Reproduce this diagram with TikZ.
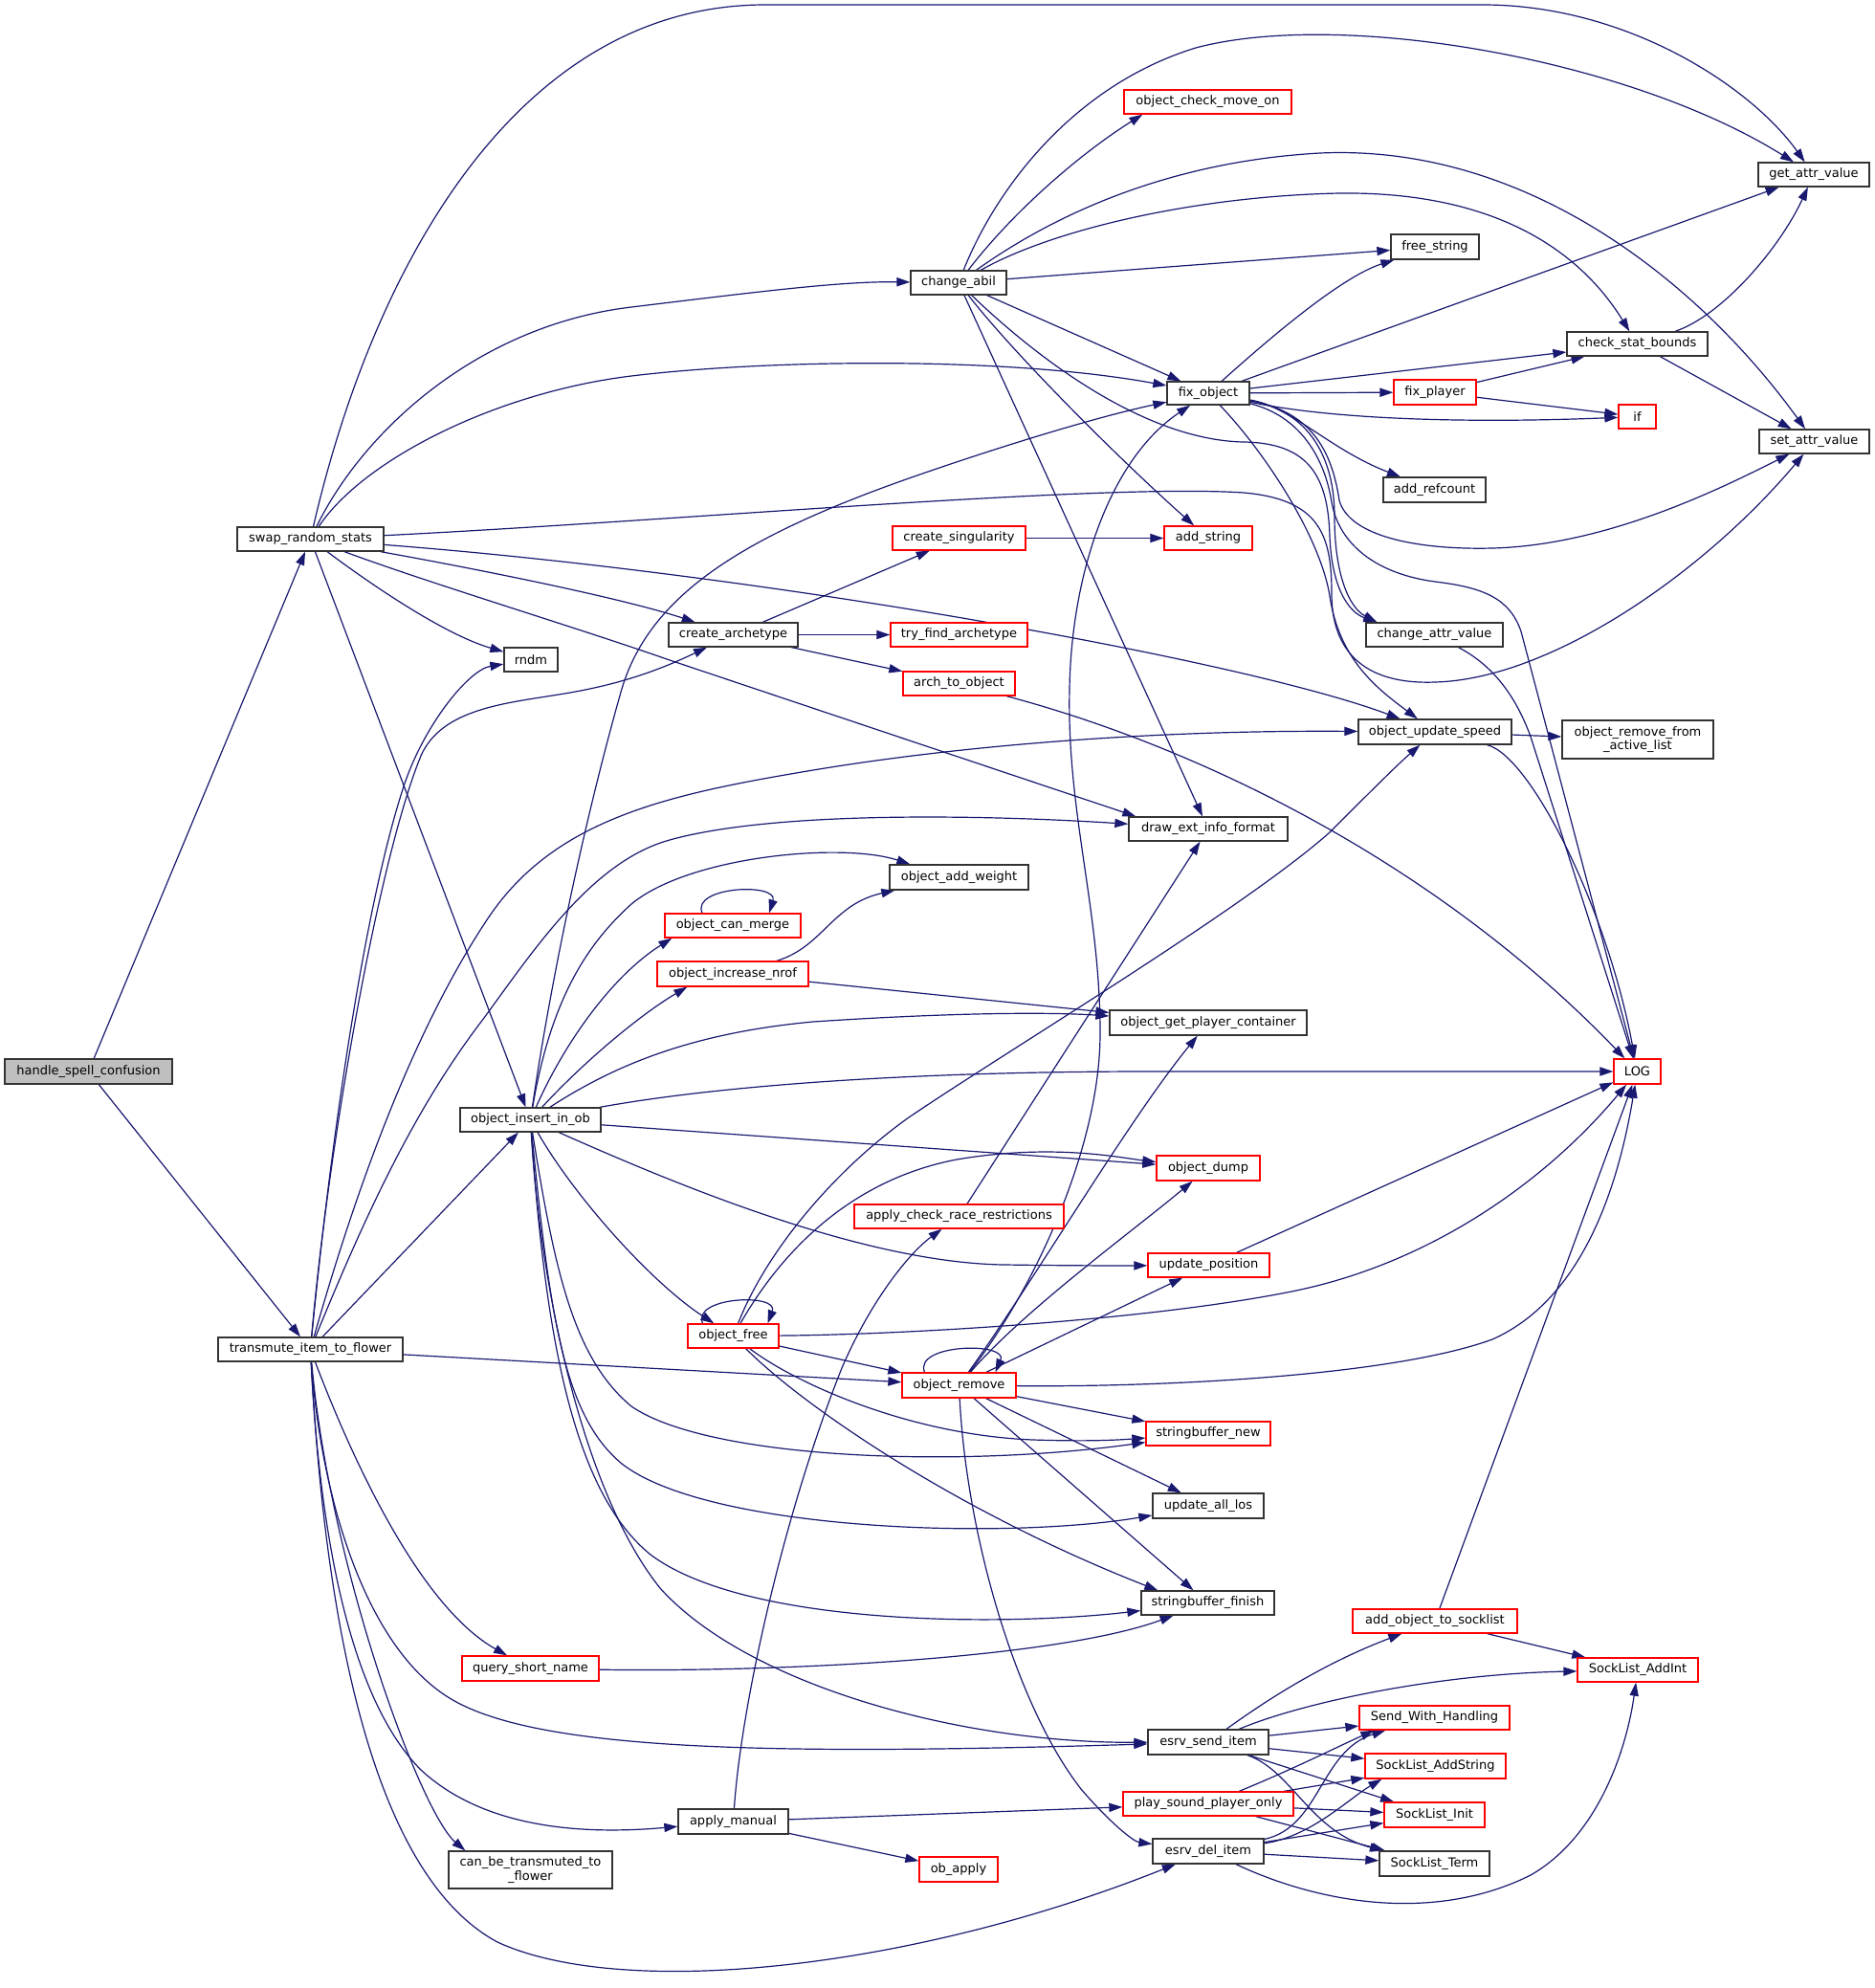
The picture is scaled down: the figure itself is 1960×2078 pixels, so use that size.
\documentclass[tikz,border=0pt]{standalone}
\usepackage{fontspec}
\setmainfont{DejaVu Sans}
\usetikzlibrary{arrows.meta}
\definecolor{edgec}{HTML}{191970}
\definecolor{gfill}{HTML}{BFBFBF}
\pgfdeclarelayer{bg}
\pgfsetlayers{bg,main}
\newcommand\mknode[7]{\node[#1, minimum width={(#5-#3)*0.5}, minimum height={(#6-#4)*0.5}] (#2) at ({(#3+#5)/2},{(#4+#6)/2}) {#7};}
\tikzset{
  box/.style={draw=black!80, fill=white, line width=0.65pt, inner sep=0pt, align=center, text=black, font=\fontsize{6.5}{7.3}\selectfont},
  rbox/.style={box, draw=red},
  gbox/.style={box, fill=gfill},
  edg/.style={draw=edgec, line width=0.6pt, -{Triangle[length=7pt,width=4.6pt]}}
}
\begin{document}
\begin{tikzpicture}[x=0.5pt,y=-0.5pt]
\useasboundingbox (0,0) rectangle (1960,2078);
\mknode{gbox}{hsc}{5}{1107}{180}{1133}{handle\_spell\_confusion}
\mknode{box}{srs}{248}{551}{401}{576}{swap\_random\_stats}
\mknode{box}{tif}{228}{1398}{421}{1423}{transmute\_item\_to\_flower}
\mknode{box}{cab}{952}{283}{1052}{308}{change\_abil}
\mknode{box}{rnd}{527}{677}{583}{702}{rndm}
\mknode{box}{car}{699}{651}{834}{676}{create\_archetype}
\mknode{box}{oii}{481}{1158}{628}{1183}{object\_insert\_in\_ob}
\mknode{rbox}{ocmo}{1175}{94}{1350}{119}{object\_check\_move\_on}
\mknode{box}{gav}{1838}{170}{1954}{195}{get\_attr\_value}
\mknode{box}{fst}{1454}{245}{1546}{271}{free\_string}
\mknode{box}{fob}{1220}{399}{1306}{423}{fix\_object}
\mknode{box}{csb}{1638}{347}{1785}{372}{check\_stat\_bounds}
\mknode{rbox}{fpl}{1457}{397}{1543}{423}{fix\_player}
\mknode{rbox}{iff}{1692}{423}{1731}{448}{if}
\mknode{box}{sav}{1839}{449}{1954}{474}{set\_attr\_value}
\mknode{box}{arc}{1446}{499}{1553}{525}{add\_refcount}
\mknode{rbox}{csg}{933}{550}{1072}{575}{create\_singularity}
\mknode{rbox}{ads}{1217}{550}{1309}{575}{add\_string}
\mknode{rbox}{tfa}{931}{651}{1074}{676}{try\_find\_archetype}
\mknode{box}{cav}{1428}{651}{1571}{676}{change\_attr\_value}
\mknode{rbox}{ato}{944}{702}{1061}{727}{arch\_to\_object}
\mknode{box}{ous}{1420}{752}{1580}{778}{object\_update\_speed}
\mknode{box}{orf}{1633}{753}{1791}{793}{object\_remove\_from\\\_active\_list}
\mknode{box}{def}{1180}{854}{1346}{879}{draw\_ext\_info\_format}
\mknode{box}{oaw}{930}{904}{1075}{930}{object\_add\_weight}
\mknode{rbox}{ocg}{695}{955}{837}{980}{object\_can\_merge}
\mknode{rbox}{oin}{687}{1005}{845}{1031}{object\_increase\_nrof}
\mknode{box}{gpc}{1160}{1056}{1366}{1082}{object\_get\_player\_container}
\mknode{rbox}{log}{1687}{1107}{1736}{1133}{LOG}
\mknode{rbox}{odp}{1209}{1208}{1317}{1234}{object\_dump}
\mknode{rbox}{acr}{893}{1259}{1112}{1284}{apply\_check\_race\_restrictions}
\mknode{rbox}{upp}{1200}{1310}{1327}{1335}{update\_position}
\mknode{rbox}{ofr}{719}{1384}{814}{1409}{object\_free}
\mknode{rbox}{orm}{943}{1435}{1062}{1461}{object\_remove}
\mknode{rbox}{sbn}{1198}{1486}{1328}{1511}{stringbuffer\_new}
\mknode{box}{ual}{1205}{1561}{1321}{1587}{update\_all\_los}
\mknode{box}{sbf}{1193}{1663}{1332}{1688}{stringbuffer\_finish}
\mknode{rbox}{qsn}{483}{1731}{626}{1757}{query\_short\_name}
\mknode{rbox}{aos}{1414}{1682}{1586}{1707}{add\_object\_to\_socklist}
\mknode{rbox}{sai}{1649}{1733}{1775}{1758}{SockList\_AddInt}
\mknode{box}{esi}{1200}{1808}{1326}{1834}{esrv\_send\_item}
\mknode{rbox}{swh}{1421}{1783}{1578}{1808}{Send\_With\_Handling}
\mknode{rbox}{sas}{1427}{1833}{1574}{1859}{SockList\_AddString}
\mknode{rbox}{psp}{1174}{1873}{1352}{1898}{play\_sound\_player\_only}
\mknode{rbox}{sli}{1447}{1884}{1552}{1910}{SockList\_Init}
\mknode{box}{apm}{709}{1891}{824}{1917}{apply\_manual}
\mknode{box}{edi}{1205}{1922}{1321}{1948}{esrv\_del\_item}
\mknode{box}{slt}{1442}{1935}{1557}{1961}{SockList\_Term}
\mknode{rbox}{oba}{961}{1941}{1043}{1967}{ob\_apply}
\mknode{box}{cbt}{469}{1935}{640}{1974}{can\_be\_transmuted\_to\\\_flower}
\begin{pgfonlayer}{bg}
% handle_spell_confusion
\draw[edg] (hsc) -- (srs);
\draw[edg] (hsc) -- (tif);
% swap_random_stats
\draw[edg] (srs) .. controls (390,280) and (540,5) .. (800,5) -- (1550,5) .. controls (1700,5) and (1830,90) .. (gav);
\draw[edg] (srs) .. controls (380,450) and (500,340) .. (660,321) .. controls (800,304) and (880,294) .. (cab);
\draw[edg] (srs) .. controls (380,480) and (520,410) .. (660,393) .. controls (800,376) and (1050,372) .. (fob);
\draw[edg] (srs) .. controls (700,545) and (1150,505) .. (1300,515) .. controls (1380,522) and (1392,560) .. (1392,620) .. controls (1392,700) and (1450,715) .. (1500,713) .. controls (1620,710) and (1780,600) .. (sav);
\draw[edg] (srs) .. controls (800,600) and (1300,690) .. (ous);
\draw[edg] (srs) .. controls (500,595) and (650,625) .. (car);
\draw[edg] (srs) .. controls (450,610) and (600,655) .. (700,690) -- ([xshift=4pt]def.north west);
\draw[edg] (srs) .. controls (400,620) and (470,665) .. (rnd);
\draw[edg] (srs) -- (oii);
% transmute_item_to_flower
\draw[edg] (tif) .. controls (345,1200) and (380,950) .. (422,822) .. controls (443,758) and (490,700) .. (rnd);
\draw[edg] (tif) .. controls (343,1200) and (395,900) .. (440,790) .. controls (462,740) and (530,735) .. (590,725) .. controls (650,715) and (690,700) .. (car);
\draw[edg] (tif) .. controls (370,1250) and (430,1080) .. (510,960) .. controls (580,855) and (700,830) .. (850,805) .. controls (1000,780) and (1200,763) .. (ous);
\draw[edg] (tif) .. controls (390,1250) and (440,1150) .. (506,1064) .. controls (560,990) and (620,900) .. (700,878) .. controls (800,850) and (1000,850) .. (def);
\draw[edg] (tif) -- (oii);
\draw[edg] (tif) -- (orm);
\draw[edg] (tif) .. controls (370,1530) and (440,1680) .. (qsn);
\draw[edg] (tif) .. controls (335,1560) and (380,1720) .. (470,1775) .. controls (560,1830) and (800,1835) .. (esi);
\draw[edg] (tif) .. controls (335,1620) and (370,1780) .. (440,1850) .. controls (510,1915) and (620,1917) .. (apm);
\draw[edg] (tif) .. controls (345,1640) and (440,1895) .. ([xshift=9pt]cbt.north west);
\draw[edg] (tif) .. controls (340,1700) and (390,1960) .. (520,2030) .. controls (650,2090) and (950,2060) .. (edi);
% change_abil
\draw[edg] (cab) .. controls (1040,200) and (1120,90) .. (1250,50) .. controls (1400,10) and (1700,60) .. (gav);
\draw[edg] (cab) .. controls (1060,220) and (1130,160) .. ([xshift=10pt]ocmo.south west);
\draw[edg] (cab) .. controls (1080,240) and (1200,170) .. (1380,160) .. controls (1600,150) and (1780,300) .. (sav);
\draw[edg] (cab) .. controls (1100,240) and (1250,205) .. (1400,202) .. controls (1560,200) and (1650,260) .. (csb);
\draw[edg] (cab) -- (fst);
\draw[edg] (cab) -- (fob);
\draw[edg] (cab) .. controls (1060,370) and (1170,480) .. (ads);
\draw[edg] (cab) -- (def);
\draw[edg] (cab) .. controls (1090,380) and (1200,460) .. (1300,462) .. controls (1370,463) and (1388,500) .. (1390,560) .. controls (1392,615) and (1410,640) .. ([xshift=6pt]cav.north west);
% create_archetype
\draw[edg] (car) -- (csg);
\draw[edg] (car) -- (tfa);
\draw[edg] (car) -- (ato);
\draw[edg] (csg) -- (ads);
% stats
\draw[edg] (csb) .. controls (1800,330) and (1860,260) .. (gav);
\draw[edg] (csb) -- (sav);
\draw[edg] (fpl) -- (csb);
\draw[edg] (fpl) -- (iff);
% fix_object
\draw[edg] (fob) .. controls (1320,360) and (1400,290) .. (fst);
\draw[edg] (fob) -- (gav);
\draw[edg] (fob) -- (csb);
\draw[edg] (fob) -- (fpl);
\draw[edg] (fob) .. controls (1400,440) and (1550,442) .. (iff);
\draw[edg] (fob) .. controls (1350,425) and (1390,470) .. (arc);
\draw[edg] (fob) .. controls (1370,430) and (1392,470) .. (1400,523) .. controls (1410,560) and (1480,575) .. (1560,573) .. controls (1680,570) and (1800,510) .. (sav);
\draw[edg] (fob) .. controls (1370,430) and (1395,480) .. (1395,540) .. controls (1395,600) and (1410,635) .. ([xshift=6pt]cav.north west);
\draw[edg] (fob) .. controls (1320,470) and (1380,560) .. (1390,623) .. controls (1400,690) and (1440,720) .. (ous);
\draw[edg] (fob) .. controls (1360,435) and (1385,480) .. (1392,525) .. controls (1400,570) and (1440,600) .. (1500,608) .. controls (1550,614) and (1578,625) .. (1590,660) -- (log);
\draw[edg] (cav) .. controls (1550,690) and (1580,715) .. (1600,770) -- (log);
\draw[edg] (ous) -- (orf);
\draw[edg] (ous) .. controls (1600,790) and (1680,950) .. (log);
\draw[edg] (ato) .. controls (1250,780) and (1500,900) .. (log);
\draw[edg] (acr) -- (def);
\draw[edg] (oin) .. controls (860,990) and (870,945) .. ([xshift=3pt]oaw.south west);
\draw[edg] (oin) -- (gpc);
\draw[edg] ([xshift=-16pt]ocg.north) .. controls ([xshift=-22pt,yshift=14pt]ocg.north) and ([xshift=24pt,yshift=16pt]ocg.north) .. ([xshift=19pt]ocg.north);
% object_insert_in_ob
\draw[edg] (oii) .. controls (575,1030) and (610,860) .. (650,720) .. controls (680,620) and (780,560) .. (950,500) .. controls (1050,465) and (1150,435) .. (fob);
\draw[edg] (oii) .. controls (575,1050) and (610,990) .. (660,945) .. controls (720,895) and (880,880) .. ([xshift=11pt]oaw.north west);
\draw[edg] (oii) .. controls (590,1090) and (640,1020) .. ([xshift=4pt]ocg.south west);
\draw[edg] (oii) .. controls (610,1110) and (670,1060) .. ([xshift=16pt]oin.south west);
\draw[edg] (oii) .. controls (640,1115) and (720,1080) .. (850,1068) .. controls (1000,1058) and (1100,1058) .. (gpc);
\draw[edg] (oii) .. controls (750,1135) and (950,1120) .. (1200,1120) -- (log);
\draw[edg] (oii) -- (odp);
\draw[edg] (oii) .. controls (700,1235) and (900,1320) .. (1050,1322) .. controls (1120,1323) and (1170,1323) .. (upp);
\draw[edg] (oii) .. controls (600,1250) and (680,1340) .. (ofr);
\draw[edg] (oii) .. controls (580,1330) and (600,1420) .. (660,1470) .. controls (740,1525) and (1000,1535) .. (sbn);
\draw[edg] (oii) .. controls (575,1380) and (590,1480) .. (650,1530) .. controls (740,1600) and (1050,1610) .. (ual);
\draw[edg] (oii) .. controls (570,1400) and (600,1560) .. (680,1625) .. controls (780,1700) and (1050,1700) .. (sbf);
\draw[edg] (oii) .. controls (565,1350) and (610,1560) .. (690,1660) .. controls (780,1760) and (1000,1822) .. (esi);
% object_free
\draw[edg] ([xshift=-16pt]ofr.north) .. controls ([xshift=-22pt,yshift=14pt]ofr.north) and ([xshift=24pt,yshift=16pt]ofr.north) .. ([xshift=18pt]ofr.north);
\draw[edg] (ofr) .. controls (800,1310) and (870,1225) .. (950,1168) .. controls (1050,1100) and (1300,950) .. (1390,870) .. controls (1430,830) and (1460,800) .. (ous);
\draw[edg] (ofr) .. controls (810,1320) and (880,1235) .. (1000,1212) .. controls (1100,1195) and (1170,1210) .. (odp);
\draw[edg] (ofr) .. controls (950,1395) and (1200,1380) .. (1350,1350) .. controls (1500,1320) and (1620,1230) .. (log);
\draw[edg] (ofr) -- (orm);
\draw[edg] (ofr) .. controls (830,1445) and (950,1500) .. (1080,1505) .. controls (1140,1507) and (1170,1505) .. (sbn);
\draw[edg] (ofr) .. controls (840,1470) and (1000,1580) .. ([xshift=9pt]sbf.north west);
% object_remove
\draw[edg] ([xshift=-18pt]orm.north) .. controls ([xshift=-24pt,yshift=15pt]orm.north) and ([xshift=26pt,yshift=16pt]orm.north) .. ([xshift=19pt]orm.north);
\draw[edg] (orm) .. controls (1080,1350) and (1150,1200) .. (1150,1080) .. controls (1150,950) and (1115,850) .. (1118,720) .. controls (1120,600) and (1160,480) .. (fob);
\draw[edg] (orm) .. controls (1080,1340) and (1180,1170) .. (gpc);
\draw[edg] (orm) .. controls (1070,1370) and (1180,1290) .. (odp);
\draw[edg] (orm) -- (upp);
\draw[edg] (orm) .. controls (1200,1450) and (1450,1440) .. (1560,1400) .. controls (1650,1360) and (1690,1250) .. (log);
\draw[edg] (orm) -- (sbn);
\draw[edg] (orm) -- (ual);
\draw[edg] (orm) -- (sbf);
\draw[edg] (orm) .. controls (1010,1600) and (1060,1780) .. (1130,1870) .. controls (1160,1905) and (1185,1925) .. (edi);
\draw[edg] (upp) -- (log);
\draw[edg] (qsn) .. controls (800,1748) and (1100,1735) .. (sbf);
% socket
\draw[edg] (aos) -- (log);
\draw[edg] (aos) -- (sai);
\draw[edg] (esi) .. controls (1320,1780) and (1380,1740) .. (aos);
\draw[edg] (esi) .. controls (1360,1780) and (1500,1750) .. (sai);
\draw[edg] (esi) -- (swh);
\draw[edg] (esi) -- (sas);
\draw[edg] (esi) -- (sli);
\draw[edg] (esi) .. controls (1350,1850) and (1370,1915) .. (slt);
\draw[edg] (psp) .. controls (1350,1850) and (1400,1825) .. ([xshift=8pt]swh.south west);
\draw[edg] (psp) -- (sas);
\draw[edg] (psp) -- (sli);
\draw[edg] (psp) -- (slt);
\draw[edg] (edi) .. controls (1380,1910) and (1380,1830) .. ([xshift=14pt]swh.south west);
\draw[edg] (edi) .. controls (1370,1920) and (1410,1880) .. ([xshift=9pt]sas.south west);
\draw[edg] (edi) -- (sli);
\draw[edg] (edi) -- (slt);
\draw[edg] (edi) .. controls (1380,1990) and (1500,2010) .. (1600,1960) .. controls (1670,1920) and (1700,1830) .. (sai);
% apply_manual
\draw[edg] (apm) .. controls (775,1780) and (820,1580) .. (880,1430) .. controls (910,1360) and (950,1310) .. (acr);
\draw[edg] (apm) -- (psp);
\draw[edg] (apm) -- (oba);
\end{pgfonlayer}
\end{tikzpicture}
\end{document}
